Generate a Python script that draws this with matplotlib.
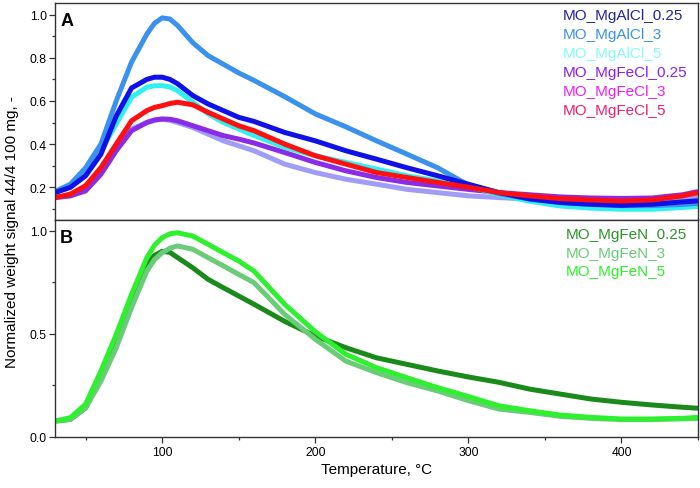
import matplotlib
matplotlib.use("Agg")
import matplotlib.pyplot as plt
from matplotlib.ticker import MultipleLocator

plt.rcParams['font.family'] = ['Liberation Sans', 'DejaVu Sans']

# ---------------- data ----------------
temp = [30, 40, 50, 60, 70, 80, 90, 95, 100, 105, 110, 120, 130, 140, 150, 160,
        180, 200, 220, 240, 260, 280, 300, 320, 340, 360, 380, 400, 420, 440, 450]

# Panel A
mgalcl_025 = [0.175, 0.199, 0.253, 0.353, 0.53, 0.66, 0.70, 0.71, 0.71, 0.70, 0.68, 0.625, 0.586, 0.555, 0.524, 0.505,
              0.454, 0.415, 0.369, 0.33, 0.29, 0.253, 0.214, 0.175, 0.146, 0.129, 0.121, 0.116, 0.121, 0.132, 0.137]
mgalcl_3 = [0.18, 0.214, 0.29, 0.40, 0.60, 0.78, 0.91, 0.96, 0.985, 0.98, 0.95, 0.87, 0.81, 0.77, 0.73, 0.695,
            0.62, 0.54, 0.48, 0.415, 0.353, 0.29, 0.21, 0.17, 0.145, 0.13, 0.12, 0.115, 0.115, 0.12, 0.125]
mgalcl_5 = [0.175, 0.207, 0.268, 0.369, 0.493, 0.617, 0.664, 0.67, 0.671, 0.665, 0.648, 0.594, 0.54, 0.50, 0.47, 0.44,
            0.385, 0.346, 0.315, 0.284, 0.253, 0.229, 0.206, 0.165, 0.135, 0.113, 0.103, 0.098, 0.098, 0.106, 0.111]
mgfecl_025 = [0.152, 0.16, 0.183, 0.26, 0.369, 0.462, 0.50, 0.512, 0.516, 0.515, 0.508, 0.485, 0.462, 0.439, 0.423, 0.405,
              0.361, 0.315, 0.276, 0.245, 0.222, 0.206, 0.19, 0.175, 0.165, 0.155, 0.15, 0.148, 0.15, 0.165, 0.18]
mgfecl_3 = [0.152, 0.16, 0.19, 0.268, 0.377, 0.47, 0.50, 0.51, 0.516, 0.51, 0.50, 0.477, 0.446, 0.415, 0.392, 0.369,
            0.307, 0.268, 0.237, 0.214, 0.19, 0.175, 0.16, 0.152, 0.144, 0.14, 0.137, 0.135, 0.137, 0.145, 0.155]
mgfecl_5 = [0.152, 0.168, 0.207, 0.291, 0.40, 0.508, 0.555, 0.57, 0.578, 0.588, 0.594, 0.582, 0.547, 0.516, 0.485, 0.462,
            0.40, 0.346, 0.307, 0.268, 0.245, 0.222, 0.20, 0.175, 0.16, 0.147, 0.141, 0.136, 0.141, 0.16, 0.175]

# Panel B
mgfen_025 = [0.076, 0.084, 0.14, 0.287, 0.465, 0.675, 0.837, 0.88, 0.90, 0.895, 0.87, 0.82, 0.764, 0.723, 0.683, 0.643,
             0.56, 0.489, 0.432, 0.383, 0.351, 0.319, 0.29, 0.264, 0.231, 0.207, 0.183, 0.167, 0.154, 0.143, 0.138]
mgfen_3 = [0.076, 0.084, 0.14, 0.27, 0.432, 0.627, 0.804, 0.86, 0.893, 0.915, 0.926, 0.91, 0.869, 0.829, 0.788, 0.748,
           0.594, 0.473, 0.367, 0.311, 0.262, 0.222, 0.175, 0.134, 0.118, 0.099, 0.089, 0.083, 0.083, 0.087, 0.089]
mgfen_5 = [0.076, 0.092, 0.158, 0.319, 0.497, 0.691, 0.869, 0.93, 0.966, 0.985, 0.99, 0.974, 0.934, 0.893, 0.853, 0.804,
           0.643, 0.51, 0.40, 0.335, 0.286, 0.238, 0.195, 0.15, 0.126, 0.105, 0.094, 0.086, 0.086, 0.089, 0.094]

labels_a = ['MO_MgAlCl_0.25', 'MO_MgAlCl_3', 'MO_MgAlCl_5', 'MO_MgFeCl_0.25', 'MO_MgFeCl_3', 'MO_MgFeCl_5']
labels_b = ['MO_MgFeN_0.25', 'MO_MgFeN_3', 'MO_MgFeN_5']

# ---------------- styles ----------------
line_colors_a = {'MO_MgAlCl_0.25': '#1010e8', 'MO_MgAlCl_3': '#3a92ee', 'MO_MgAlCl_5': '#30f0f0',
                 'MO_MgFeCl_0.25': '#8a2be8', 'MO_MgFeCl_3': '#a09cf8', 'MO_MgFeCl_5': '#ff1010'}
text_colors_a = ['#23239c', '#3a92ee', '#86fafa', '#8c1ef0', '#f01ef0', '#f01e6e']
line_colors_b = {'MO_MgFeN_0.25': '#1a8a1a', 'MO_MgFeN_3': '#6acc78', 'MO_MgFeN_5': '#2ef02e'}
text_colors_b = ['#2a962a', '#6acc78', '#2ef02e']

series_a = dict(zip(labels_a, [mgalcl_025, mgalcl_3, mgalcl_5, mgfecl_025, mgfecl_3, mgfecl_5]))
series_b = dict(zip(labels_b, [mgfen_025, mgfen_3, mgfen_5]))

W, H = 700, 489
fig = plt.figure(figsize=(W / 100, H / 100), dpi=100)
left, right = 55 / W, 698 / W
mid = 1 - 221 / H
top = 1 - 4 / H
bot = 1 - 437.7 / H
axA = fig.add_axes([left, mid, right - left, top - mid])
axB = fig.add_axes([left, bot, right - left, mid - bot], sharex=axA)

lw = 3.6
for name in ['MO_MgFeCl_3', 'MO_MgFeCl_0.25', 'MO_MgAlCl_5', 'MO_MgAlCl_3', 'MO_MgAlCl_0.25', 'MO_MgFeCl_5']:
    axA.plot(temp, series_a[name], color=line_colors_a[name], lw=lw,
             solid_capstyle='butt', solid_joinstyle='round')
for name in ['MO_MgFeN_0.25', 'MO_MgFeN_3', 'MO_MgFeN_5']:
    axB.plot(temp, series_b[name], color=line_colors_b[name], lw=lw,
             solid_capstyle='butt', solid_joinstyle='round')

axA.set_xlim(30, 450)
axA.set_ylim(0.048, 1.054)
axB.set_ylim(0.0, 1.052)

axA.yaxis.set_major_locator(MultipleLocator(0.2))
axA.yaxis.set_minor_locator(MultipleLocator(0.1))
axB.yaxis.set_major_locator(MultipleLocator(0.5))
axB.yaxis.set_minor_locator(MultipleLocator(0.25))
axB.xaxis.set_major_locator(MultipleLocator(100))
axB.xaxis.set_minor_locator(MultipleLocator(50))

for ax in (axA, axB):
    for s in ax.spines.values():
        s.set_color('#333333')
        s.set_linewidth(1.0)
    ax.tick_params(which='major', direction='out', length=4, width=0.9, color='#333333',
                   labelsize=8.7, pad=2)
    ax.tick_params(which='minor', direction='out', length=2.5, width=0.9, color='#333333')
axA.tick_params(axis='x', which='both', bottom=False, labelbottom=False)
axB.tick_params(axis='x', labelsize=8.7, pad=3)
axA.set_yticks([0.2, 0.4, 0.6, 0.8, 1.0])
axA.set_yticklabels(['0.2', '0.4', '0.6', '0.8', '1.0'])
axB.set_yticks([0.0, 0.5, 1.0])
axB.set_yticklabels(['0.0', '0.5', '1.0'])

axA.text(0.008, 0.96, 'A', transform=axA.transAxes, fontsize=13, fontweight='bold', va='top', ha='left')
axB.text(0.008, 0.96, 'B', transform=axB.transAxes, fontsize=13, fontweight='bold', va='top', ha='left')

for i, (lab, c) in enumerate(zip(labels_a, text_colors_a)):
    fig.text(563 / W, 1 - (16 + 19 * i) / H, lab, color=c, fontsize=11, va='center', ha='left')
for i, (lab, c) in enumerate(zip(labels_b, text_colors_b)):
    fig.text(566 / W, 1 - (235 + 18.7 * i) / H, lab, color=c, fontsize=11, va='center', ha='left')

fig.text(12 / W, 1 - 232 / H, 'Normalized weight signal 44/4 100 mg, -', rotation=90,
         fontsize=11, va='center', ha='center')
fig.text(377 / W, 1 - 470 / H, 'Temperature, \u00b0C', fontsize=11, va='center', ha='center')

fig.savefig('out.png', dpi=100)
